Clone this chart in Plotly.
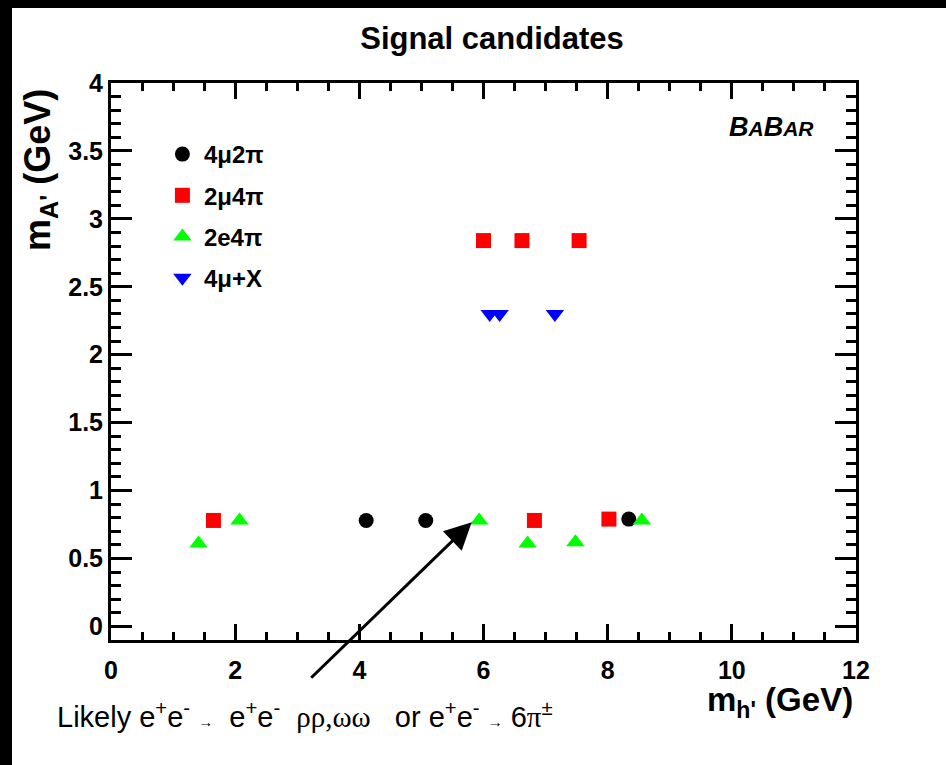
import plotly.graph_objects as go

# ---- data ----
circ_x = [4.11, 5.07, 8.34]
circ_y = [0.78, 0.78, 0.79]
sq_x = [1.65, 6.82, 8.02, 6.00, 6.62, 7.54]
sq_y = [0.78, 0.78, 0.79, 2.84, 2.84, 2.84]
tri_x = [1.41, 2.07, 5.93, 6.71, 7.48, 8.55]
tri_y = [0.61, 0.78, 0.78, 0.61, 0.62, 0.78]
dtri_x = [6.10, 6.26, 7.15]
dtri_y = [2.30, 2.30, 2.30]
names = ["4μ2π", "2μ4π", "2e4π", "4μ+X"]

FONT = "Liberation Sans, Arial, Helvetica, sans-serif"
SERIF = "Liberation Serif, serif"

fig = go.Figure()
fig.add_trace(go.Scatter(x=circ_x, y=circ_y, mode="markers", name=names[0], legendgroup="a",
                         marker=dict(symbol="circle", size=15, color="black")))
fig.add_trace(go.Scatter(x=sq_x, y=sq_y, mode="markers", name=names[1], legendgroup="b",
                         marker=dict(symbol="square", size=15, color="#ff0000")))
fig.add_trace(go.Scatter(x=tri_x, y=tri_y, mode="markers", name=names[2], legendgroup="c",
                         marker=dict(symbol="triangle-up", size=16, color="#00ff00")))
fig.add_trace(go.Scatter(x=dtri_x, y=dtri_y, mode="markers", name=names[3], legendgroup="d",
                         marker=dict(symbol="triangle-down", size=16, color="#0000ff")))

axis_common = dict(
    showline=True, linewidth=3, linecolor="black", mirror="ticks",
    ticks="inside", tickwidth=3, tickcolor="black",
    showgrid=False, zeroline=False,
    tickfont=dict(family=FONT, size=25, color="black", weight="bold"),
)

fig.update_xaxes(range=[0, 12], tick0=0, dtick=2, ticklen=16, ticklabelstandoff=6,
                 minor=dict(ticks="inside", dtick=0.5, ticklen=8, tickwidth=2.5, tickcolor="black"),
                 **axis_common)
fig.update_yaxes(range=[-0.1, 4], tick0=0, dtick=0.5, ticklen=21,
                 minor=dict(ticks="inside", dtick=0.1, ticklen=10, tickwidth=2.5, tickcolor="black"),
                 **axis_common)

fig.update_layout(
    width=946, height=765, autosize=False,
    margin=dict(l=111, r=90, t=83, b=125, pad=0),
    paper_bgcolor="white", plot_bgcolor="white",
    title=dict(text="<b>Signal candidates</b>", x=492 / 946, xanchor="center",
               y=1 - 38 / 765, yanchor="middle", xref="container", yref="container",
               font=dict(family=FONT, size=31, color="black")),
    legend=dict(x=0.067, y=0.912, xanchor="left", yanchor="top", bgcolor="rgba(0,0,0,0)",
                borderwidth=0, tracegroupgap=7, itemwidth=33,
                font=dict(family=FONT, size=24, color="black", weight="bold")),
    showlegend=True,
)

arrow_span = "<span style='font-size:15px'>→</span>"
annotations = [
    dict(text="<b>m<sub>A'</sub> (GeV)</b>", textangle=-90, xref="paper", yref="paper",
         x=(40 - 111) / 745, y=1 - (170 - 83) / 557, xanchor="center", yanchor="middle",
         showarrow=False, font=dict(family=FONT, size=36, color="black")),
    dict(text="<b>m<sub>h'</sub> (GeV)</b>", xref="paper", yref="paper",
         x=1 + (855 - 856) / 745, y=-(702 - 640) / 557, xanchor="right", yanchor="middle",
         showarrow=False, font=dict(family=FONT, size=33, color="black")),
    dict(text="<b><i>B<span style='font-size:21px'>A</span>B<span style='font-size:21px'>AR</span></i></b>",
         xref="paper", yref="paper", x=(771 - 111) / 745, y=1 - (127 - 83) / 557,
         xanchor="center", yanchor="middle", showarrow=False,
         font=dict(family=FONT, size=27, color="black")),
    dict(text="Likely e<sup>+</sup>e<sup>-</sup> " + arrow_span + "&nbsp; e<sup>+</sup>e<sup>-</sup>&nbsp; "
              "<span style='font-family:" + SERIF + "'>ρρ,ωω</span>&nbsp;&nbsp; or e<sup>+</sup>e<sup>-</sup> "
              + arrow_span + " 6<span style='font-family:" + SERIF + "'>π</span><sup>±</sup>",
         xref="paper", yref="paper", x=(55 - 111) / 745, y=-(715 - 640) / 557,
         xanchor="left", yanchor="middle", showarrow=False,
         font=dict(family=FONT, size=29, color="black")),
    dict(text="", x=5.81, y=0.767, xref="x", yref="y", ax=-162, ay=157, axref="pixel", ayref="pixel",
         showarrow=True, arrowhead=2, arrowwidth=3, arrowsize=1.8, arrowcolor="black"),
]
fig.update_layout(annotations=annotations)

# black border strips (left and top) as in the reference picture
fig.add_shape(type="rect", xref="paper", yref="paper", x0=-111 / 745, x1=(12 - 111) / 745,
              y0=-125 / 557, y1=1 + 83 / 557, fillcolor="black", line_width=0, layer="above")
fig.add_shape(type="rect", xref="paper", yref="paper", x0=-111 / 745, x1=1 + 90 / 745,
              y0=1 + (83 - 8) / 557, y1=1 + 83 / 557, fillcolor="black", line_width=0, layer="above")

fig.write_html("out.html")
